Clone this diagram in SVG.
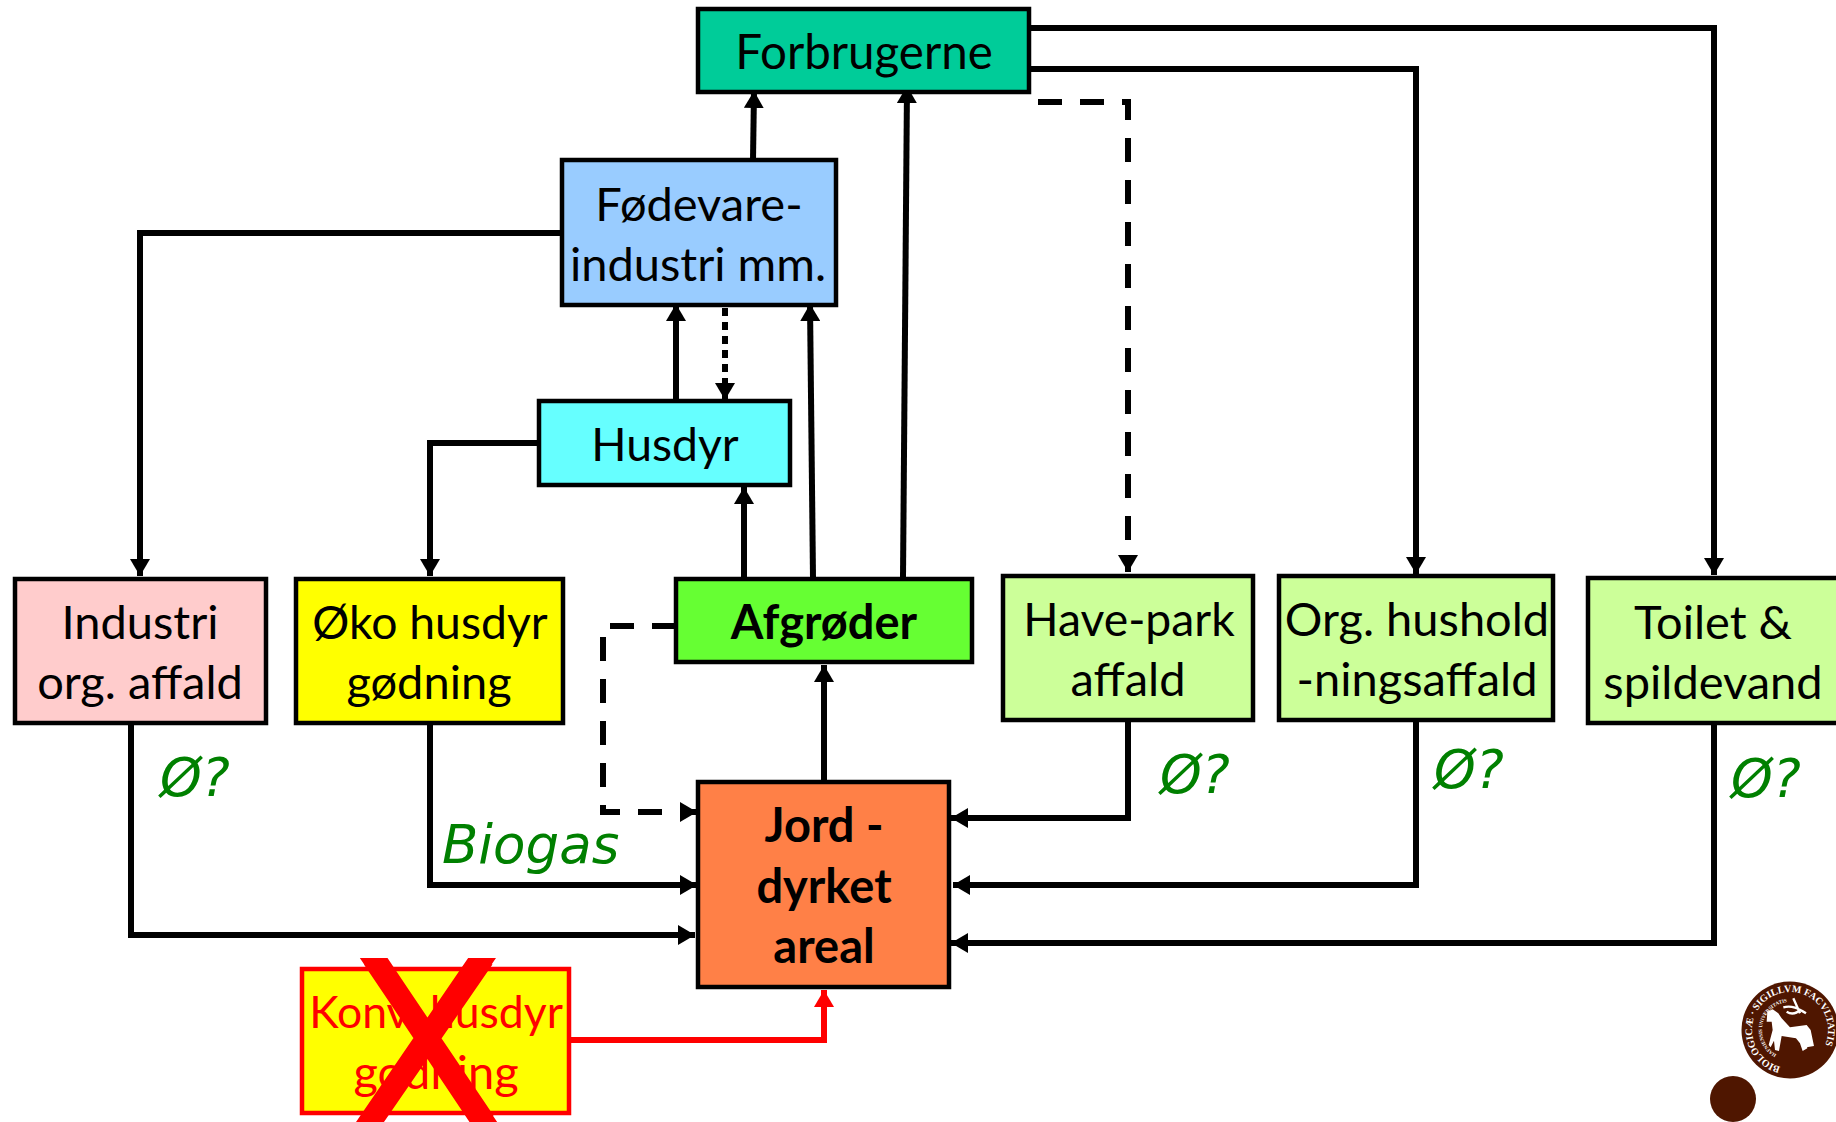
<svg xmlns="http://www.w3.org/2000/svg" width="1836" height="1122" viewBox="0 0 1836 1122">
<style>
.b{stroke:#000;stroke-width:4.5}
.t{font-family:"Lato","Carlito","Noto Sans",sans-serif;font-size:47px;text-anchor:middle;fill:#000}
.n{font-size:46.3px}
.bd{font-weight:700;font-size:47px}
.r{fill:#f00;font-size:44.5px}
.g{font-family:"DejaVu Sans",sans-serif;font-size:53px;font-style:italic;fill:#008000}
.c{fill:none;stroke:#000;stroke-width:6}
.a{marker-end:url(#ah)}
.dash{stroke-dasharray:24 18}
.dot{stroke-dasharray:8 6}
.s{font-family:"Liberation Serif",serif;fill:#fff;font-weight:700}
</style>
<defs>
<marker id="ah" markerUnits="userSpaceOnUse" markerWidth="17" markerHeight="20" refX="17" refY="10" orient="auto"><path d="M0 0L17 10L0 20z" fill="#000"/></marker>
<marker id="ar" markerUnits="userSpaceOnUse" markerWidth="17" markerHeight="20" refX="17" refY="10" orient="auto"><path d="M0 0L17 10L0 20z" fill="#f00"/></marker>
<path id="sa" d="M1790 1068a38 38 0 1 1 .1 0"/>
<path id="sb" d="M1790 1058a28 28 0 1 1 .1 0"/>
<clipPath id="xc"><rect x="340" y="958" width="180" height="164"/></clipPath>
</defs>
<rect width="1836" height="1122" fill="#fff"/>
<g id="connectors">
<path class="c a" d="M753 160L754 91"/>
<path class="c a" d="M903 578L907 86"/>
<path class="c a" d="M1031 28H1714V575"/>
<path class="c a" d="M1031 69H1416V574"/>
<path class="c a dash" d="M1038 102H1128V572"/>
<path class="c a" d="M562 233H140V576"/>
<path class="c a" d="M676 400V304"/>
<path class="c a" d="M813 578L810 304"/>
<path class="c a dot" d="M725 308V400"/>
<path class="c a" d="M539 443H430V576"/>
<path class="c a" d="M744 578V487"/>
<path class="c a" d="M824 781V665"/>
<path class="c a dash" d="M676 626H603V812H697"/>
<path class="c a" d="M131 723V935H695"/>
<path class="c a" d="M430 723V885H697"/>
<path class="c a" d="M1128 720V818H951"/>
<path class="c a" d="M1416 720V885H953"/>
<path class="c a" d="M1714 723V943H951"/>
<path d="M569 1040H824V990" fill="none" stroke="#f00" stroke-width="6" marker-end="url(#ar)"/>
</g>
<g id="forbrugerne"><rect class="b" x="698" y="9" width="331" height="83" fill="#00cc99"/><text class="t" x="864" y="69" style="font-size:47.5px">Forbrugerne</text></g>
<g id="fodevare"><rect class="b" x="562" y="160" width="274" height="145" fill="#99ccff"/><text class="t" x="699" y="221">Fødevare-</text><text class="t" x="698" y="281">industri mm.</text></g>
<g id="husdyr"><rect class="b" x="539" y="401" width="251" height="84" fill="#66ffff"/><text class="t n" x="665" y="461">Husdyr</text></g>
<g id="industri"><rect class="b" x="15" y="579" width="251" height="144" fill="#ffcccc"/><text class="t" x="140" y="639">Industri</text><text class="t" x="140" y="699">org. affald</text></g>
<g id="oko"><rect class="b" x="296" y="579" width="267" height="144" fill="#ffff00"/><text class="t n" x="430" y="639">Øko husdyr</text><text class="t" x="429" y="699">gødning</text></g>
<g id="afgroder"><rect class="b" x="676" y="579" width="296" height="83" fill="#66ff33"/><text class="t bd" x="824" y="639">Afgrøder</text></g>
<g id="havepark"><rect class="b" x="1003" y="576" width="250" height="144" fill="#ccff99"/><text class="t n" x="1129" y="636">Have-park</text><text class="t" x="1128" y="696">affald</text></g>
<g id="orghushold"><rect class="b" x="1279" y="576" width="274" height="144" fill="#ccff99"/><text class="t" x="1417" y="636">Org. hushold</text><text class="t" x="1417" y="696">-ningsaffald</text></g>
<g id="toilet"><rect class="b" x="1588" y="578" width="260" height="145" fill="#ccff99"/><text class="t" x="1713" y="639">Toilet &amp;</text><text class="t" x="1713" y="699">spildevand</text></g>
<g id="jord"><rect class="b" x="698" y="782" width="251" height="205" fill="#ff8047"/><text class="t bd" x="824" y="842">Jord -</text><text class="t bd" x="824" y="903">dyrket</text><text class="t bd" x="824" y="963">areal</text></g>
<g id="konv"><rect x="302" y="969" width="267" height="144" fill="#ffff00" stroke="#f00" stroke-width="4.5"/><text class="t r" x="436" y="1028">Konv. husdyr</text><text class="t r" x="436" y="1089" style="font-size:47px">gødning</text></g>
<g id="labels">
<text class="g" x="160" y="796">Ø?</text>
<text class="g" x="442" y="863">Biogas</text>
<text class="g" x="1160" y="793">Ø?</text>
<text class="g" x="1434" y="788">Ø?</text>
<text class="g" x="1731" y="797">Ø?</text>
</g>
<g id="cross" clip-path="url(#xc)"><path d="M373.5 958L484 1122M483 958L370 1122M363 942L494 1138M493 942L359 1138" stroke="#f00" stroke-width="23" fill="none"/></g>
<g id="seal">
<circle cx="1790" cy="1030" r="48.5" fill="#4f1600"/>
<text class="s" font-size="10"><textPath href="#sa" startOffset="4%">BIOLOGICÆ · SIGILLVM FACVLTATIS</textPath></text>
<text class="s" font-size="5"><textPath href="#sb" startOffset="8%">HAFNIENSIS UNIVERSITATIS</textPath></text>
<g transform="translate(1650 950) scale(.3333)">
<path d="M350 215L352 185L368 178L385 190L395 205L420 232L470 225L482 240L492 288L470 292L466 262L472 295L458 303L450 280L438 265L395 258L387 303L375 300L372 272L362 292L356 285L368 240L365 215z" fill="#fff"/>
<path d="M400 172C425 165 445 175 468 190M430 145L450 190M410 185C425 195 440 190 452 178" stroke="#fff" stroke-width="7" fill="none"/>
</g>
</g>
<circle id="dot" cx="1733" cy="1099" r="23" fill="#4f1600"/>
</svg>
